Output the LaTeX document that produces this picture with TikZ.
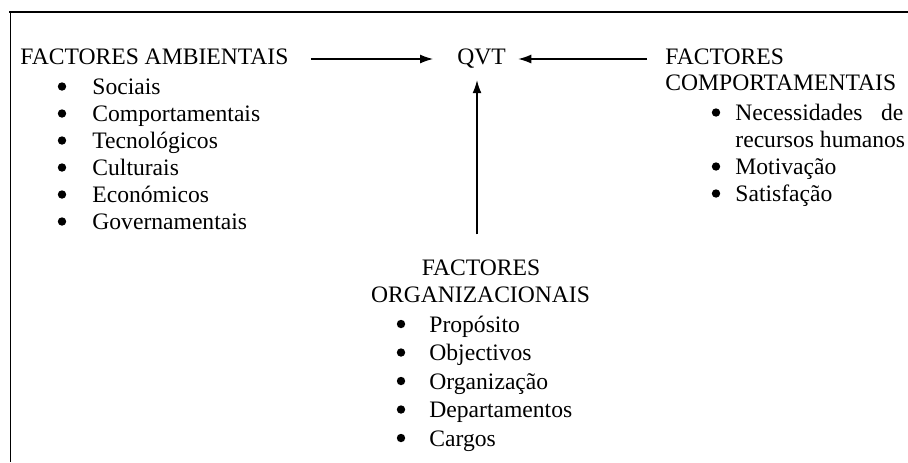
\documentclass[tikz,border=0pt]{standalone}
\usepackage{fontspec}
\setmainfont{Liberation Serif}
\usepackage{tikz}
\usetikzlibrary{arrows.meta}

\begin{document}
\begin{tikzpicture}[x=.5pt,y=-.5pt,font=\fontsize{11.8}{14}\selectfont,
lbl/.style={anchor=base west,inner sep=0pt},
arr/.style={-{Latex[length=6.5pt,width=4.5pt]},line width=.6pt}]
\useasboundingbox (0,0) rectangle (908,462);
\draw[line width=1pt] (9,12) -- (908,12);
\draw[line width=.75pt] (10.5,12) -- (10.5,462);
\node[lbl] (qvt) at (457,64) {QVT};
\node[lbl] (amb) at (20,64) {FACTORES AMBIENTAIS};
\foreach \t [count=\k] in {Sociais,Comportamentais,Tecnológicos,Culturais,Económicos,Governamentais} {
\fill (62,{94.5+27*(\k-1)-8}) circle (2.1pt);
\node[lbl] (amb\k) at (92,{94.5+27*(\k-1)}) {\t};
}
\node[lbl] (cmp) at (665,64) {FACTORES};
\node[lbl] (cmpb) at (665,90.5) {COMPORTAMENTAIS};
\fill (716,112.5) circle (2.1pt);
\node[lbl] (cmp1) at (735,120.5) {\hbox to 84pt{Necessidades\hfil de}};
\node[lbl] (cmp1b) at (735,147.5) {recursos humanos};
\foreach \t [count=\k] in {Motivação,Satisfação} {
\fill (716,{174.5+27*(\k-1)-8}) circle (2.1pt);
\node[lbl] (cmp\k c) at (735,{174.5+27*(\k-1)}) {\t};
}
\node[lbl,anchor=base] (org) at (481,275.5) {FACTORES};
\node[lbl,anchor=base] (orgb) at (480.5,302.5) {ORGANIZACIONAIS};
\foreach \t [count=\k] in {Propósito,Objectivos,Organização,Departamentos,Cargos} {
\fill (401,{332+28.5*(\k-1)-8}) circle (2.1pt);
\node[lbl] (org\k) at (429,{332+28.5*(\k-1)}) {\t};
}
\draw[arr,shorten <=11pt,shorten >=12pt] ([yshift=2.5pt]amb.base east) -- ([yshift=2.5pt]qvt.base west);
\draw[arr,shorten <=9pt,shorten >=6pt] ([yshift=2.5pt]cmp.base west) -- ([yshift=2.5pt]qvt.base east);
\draw[arr,shorten <=12.5pt,shorten >=6pt] ([xshift=-2pt]org.north) -- ([xshift=-2pt]org.north |- qvt.south);
\end{tikzpicture}
\end{document}
